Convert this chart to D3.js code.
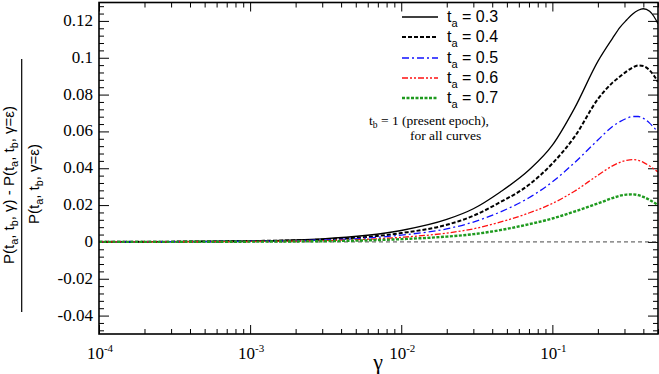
<!DOCTYPE html>
<html>
<head>
<meta charset="utf-8">
<script src="https://cdn.jsdelivr.net/npm/d3@7"></script>
<style>
  body { margin: 0; background: #fff; }
  svg { display: block; }
</style>
</head>
<body>
<svg id="chart" width="659" height="374"></svg>
<script>
// gamma grid (x) shared by all curves
const gammas = [0.0001, 0.0003, 0.001, 0.003, 0.01, 0.02, 0.03, 0.045, 0.07, 0.1, 0.14, 0.2, 0.25, 0.28, 0.31, 0.34, 0.37, 0.4, 0.44, 0.47, 0.5];

const ta03 = [0.00006, 0.0002, 0.0006, 0.0017, 0.0062, 0.0122, 0.018, 0.027, 0.039, 0.0525, 0.0725, 0.098, 0.1105, 0.1165, 0.1205, 0.1238, 0.1258, 0.1266, 0.1252, 0.1224, 0.1184];
const ta04 = [0.00005, 0.00015, 0.00047, 0.0013, 0.0048, 0.0093, 0.0142, 0.0215, 0.031, 0.0426, 0.057, 0.0775, 0.0865, 0.0898, 0.0926, 0.0947, 0.0958, 0.0955, 0.0932, 0.0903, 0.0868];
const ta05 = [0.00004, 0.00012, 0.00036, 0.001, 0.0037, 0.0071, 0.0108, 0.0162, 0.024, 0.0326, 0.043, 0.0553, 0.0627, 0.0653, 0.0671, 0.0681, 0.0681, 0.0671, 0.0645, 0.0621, 0.0597];
const ta06 = [0.00002, 0.00007, 0.00024, 0.0007, 0.0025, 0.0048, 0.0071, 0.0107, 0.0157, 0.0209, 0.0275, 0.0362, 0.0413, 0.0432, 0.0443, 0.0447, 0.0443, 0.0432, 0.0412, 0.0396, 0.038];
const ta07 = [0.00001, 0.00004, 0.00014, 0.0004, 0.0015, 0.0029, 0.0042, 0.0064, 0.0096, 0.0127, 0.0165, 0.0209, 0.0238, 0.0251, 0.0257, 0.0258, 0.0254, 0.0244, 0.0228, 0.0214, 0.020];

const legendLabels = ["0.3", "0.4", "0.5", "0.6", "0.7"];

const xMajor = [1e-4, 1e-3, 1e-2, 1e-1];
const xExponents = ["-4", "-3", "-2", "-1"];
const yMajor = [0.12, 0.1, 0.08, 0.06, 0.04, 0.02, 0, -0.02, -0.04];
const yLabels = ["0.12", "0.1", "0.08", "0.06", "0.04", "0.02", "0", "-0.02", "-0.04"];

const styles = [
  { color: "#000", width: 1.3, dash: null },
  { color: "#000", width: 2, dash: "4,2" },
  { color: "#1010ff", width: 1.3, dash: "7,3,2,3" },
  { color: "#ff1010", width: 1.3, dash: "6,2,2,2,2,2" },
  { color: "#1e9a1e", width: 2.4, dash: "3,1.5" }
];
const series = [ta03, ta04, ta05, ta06, ta07];

const svg = d3.select("#chart");
const plotL = 99, plotR = 658, plotT = 2.5, plotB = 334;

const x = d3.scaleLog().domain([1e-4, 0.5]).range([plotL, plotR]);
const y = d3.scaleLinear().domain([-0.05, 0.13]).range([plotB, plotT]);

// ticks, inward on all four sides
const xMinor = x.ticks().filter(t => !xMajor.some(m => Math.abs(m - t) / m < 1e-6));
const yMinor = d3.range(-12, 33).map(i => +(i * 0.004).toFixed(3))
  .filter(t => !yMajor.some(m => Math.abs(m - t) < 1e-9));

function tickAxis(axisFn, scale, values, size, transform) {
  const g = svg.append("g")
    .attr("transform", transform)
    .call(axisFn(scale).tickValues(values).tickSize(size).tickSizeOuter(0).tickFormat(""));
  g.select(".domain").remove();
  g.selectAll("line").attr("stroke", "#000").attr("stroke-width", 1);
}
tickAxis(d3.axisBottom, x, xMinor, -5, `translate(0,${plotB})`);
tickAxis(d3.axisBottom, x, xMajor, -9, `translate(0,${plotB})`);
tickAxis(d3.axisTop, x, xMinor, -5, `translate(0,${plotT})`);
tickAxis(d3.axisTop, x, xMajor, -9, `translate(0,${plotT})`);
tickAxis(d3.axisLeft, y, yMinor, -5, `translate(${plotL},0)`);
tickAxis(d3.axisLeft, y, yMajor, -10, `translate(${plotL},0)`);
tickAxis(d3.axisRight, y, yMinor, -5, `translate(${plotR},0)`);
tickAxis(d3.axisRight, y, yMajor, -10, `translate(${plotR},0)`);

// zero line
svg.append("line")
  .attr("x1", plotL).attr("x2", plotR)
  .attr("y1", y(0)).attr("y2", y(0))
  .attr("stroke", "#333").attr("stroke-width", 0.9)
  .attr("stroke-dasharray", "4,3");

// curves
const line = d3.line()
  .x((d, i) => x(gammas[i]))
  .y(d => y(d))
  .curve(d3.curveMonotoneX);

svg.append("defs").append("clipPath").attr("id", "clip")
  .append("rect").attr("x", plotL).attr("y", plotT).attr("width", plotR - plotL).attr("height", plotB - plotT);

series.forEach((s, k) => {
  svg.append("path")
    .datum(s)
    .attr("clip-path", "url(#clip)")
    .attr("fill", "none")
    .attr("stroke", styles[k].color)
    .attr("stroke-width", styles[k].width)
    .attr("stroke-dasharray", styles[k].dash)
    .attr("d", line);
});

// frame
svg.append("rect")
  .attr("x", plotL).attr("y", plotT)
  .attr("width", plotR - plotL).attr("height", plotB - plotT)
  .attr("fill", "none").attr("stroke", "#000").attr("stroke-width", 1.6);

// y tick labels
svg.append("g").selectAll("text")
  .data(yMajor)
  .join("text")
  .attr("font-family", "Liberation Serif")
  .attr("x", 93)
  .attr("y", d => y(d) + 5)
  .attr("text-anchor", "end")
  .attr("font-size", 17)
  .text((d, i) => yLabels[i]);

// x tick labels 10^n
const xl = svg.append("g").selectAll("text")
  .data(xMajor)
  .join("text")
  .attr("font-family", "Liberation Serif")
  .attr("x", d => x(d) + 1)
  .attr("y", 359)
  .attr("text-anchor", "middle")
  .attr("font-size", 17);
xl.append("tspan").text("10");
xl.append("tspan").attr("dy", -7).attr("font-size", 11).text((d, i) => xExponents[i]);

// x title
svg.append("text")
  .attr("font-family", "Liberation Serif")
  .attr("x", 378).attr("y", 369)
  .attr("text-anchor", "middle")
  .attr("font-size", 22)
  .text("γ");

// y title: fraction, rotated
function pExpr(g, last) {
  g.append("tspan").text("P(t");
  g.append("tspan").attr("dy", 4).attr("font-size", "0.72em").text("a");
  g.append("tspan").attr("dy", -4).text(", t");
  g.append("tspan").attr("dy", 4).attr("font-size", "0.72em").text("b");
  g.append("tspan").attr("dy", -4).text(", " + last + ")");
}
const yt = svg.append("g");
const num = yt.append("text")
  .attr("font-family", "Liberation Sans")
  .attr("transform", "translate(13.5,185) rotate(-90)")
  .attr("text-anchor", "middle")
  .attr("font-size", 15);
pExpr(num, "γ");
num.append("tspan").text(" - ");
pExpr(num, "γ=ε");

yt.append("line")
  .attr("x1", 21.7).attr("x2", 21.7)
  .attr("y1", 59).attr("y2", 312)
  .attr("stroke", "#000").attr("stroke-width", 1.2);

const den = yt.append("text")
  .attr("font-family", "Liberation Sans")
  .attr("transform", "translate(39,184) rotate(-90)")
  .attr("text-anchor", "middle")
  .attr("font-size", 15);
pExpr(den, "γ=ε");

// legend
const rowY = [17, 37, 58, 78, 98];
legendLabels.forEach((lab, k) => {
  svg.append("line")
    .attr("x1", 402).attr("x2", 438)
    .attr("y1", rowY[k]).attr("y2", rowY[k])
    .attr("stroke", styles[k].color)
    .attr("stroke-width", styles[k].width)
    .attr("stroke-dasharray", styles[k].dash);
  const t = svg.append("text")
    .attr("font-family", "Liberation Sans")
    .attr("x", 447).attr("y", rowY[k] + 5)
    .attr("font-size", 16);
  t.append("tspan").text("t");
  t.append("tspan").attr("dy", 5).attr("font-size", 11).text("a");
  t.append("tspan").attr("dy", -5).text(" = " + lab);
});

const note1 = svg.append("text").attr("font-family", "Liberation Serif")
  .attr("x", 369).attr("y", 125).attr("font-size", 13.5);
note1.append("tspan").text("t");
note1.append("tspan").attr("dy", 2.5).attr("font-size", 9.5).text("b");
note1.append("tspan").attr("dy", -2.5).text(" = 1 (present epoch),");
svg.append("text").attr("font-family", "Liberation Serif")
  .attr("x", 410).attr("y", 140).attr("font-size", 13.5)
  .text("for all curves");
</script>
</body>
</html>
